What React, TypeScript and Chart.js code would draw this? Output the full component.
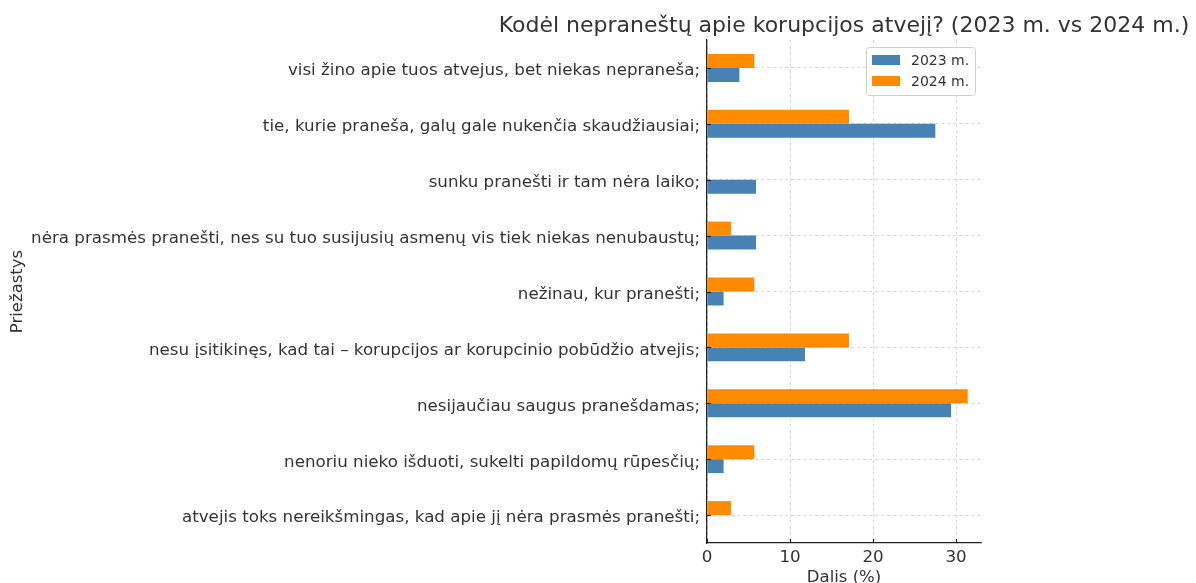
import React, { useEffect, useRef } from "react";
import { Chart, registerables } from "chart.js";

Chart.register(...registerables);

const categories: string[] = [
  "visi žino apie tuos atvejus, bet niekas nepraneša;",
  "tie, kurie praneša, galų gale nukenčia skaudžiausiai;",
  "sunku pranešti ir tam nėra laiko;",
  "nėra prasmės pranešti, nes su tuo susijusių asmenų vis tiek niekas nenubaustų;",
  "nežinau, kur pranešti;",
  "nesu įsitikinęs, kad tai – korupcijos ar korupcinio pobūdžio atvejis;",
  "nesijaučiau saugus pranešdamas;",
  "nenoriu nieko išduoti, sukelti papildomų rūpesčių;",
  "atvejis toks nereikšmingas, kad apie jį nėra prasmės pranešti;",
];

const values2023: number[] = [3.9, 27.5, 5.9, 5.9, 2.0, 11.8, 29.4, 2.0, 0];
const values2024: number[] = [5.7, 17.1, 0, 2.9, 5.7, 17.1, 31.4, 5.7, 2.9];

const xTickValues: number[] = [0, 10, 20, 30];
const xMax = 33;

const seriesNames: string[] = ["2023 m.", "2024 m."];
const seriesColors: string[] = ["#4682B4", "#FF8C00"];

const titleText = "Kodėl nepraneštų apie korupcijos atvejį? (2023 m. vs 2024 m.)";
const xTitle = "Dalis (%)";
const yTitle = "Priežastys";

const FONT = "'DejaVu Sans', sans-serif";
const TEXT = "#333333";
const TICK_SIZE = 16.7;
const AXIS_TITLE_SIZE = 16.5;

const decorPlugin = {
  id: "decor",
  afterDraw(chart: any) {
    const { ctx, chartArea, scales } = chart;
    ctx.save();
    // inward ticks
    ctx.strokeStyle = "#222";
    ctx.lineWidth = 1.2;
    const ys = scales.y;
    categories.forEach((_, i) => {
      const py = Math.round(ys.getPixelForValue(i)) + 0.5;
      ctx.beginPath();
      ctx.moveTo(chartArea.left, py);
      ctx.lineTo(chartArea.left + 4, py);
      ctx.stroke();
    });
    const xs = scales.x;
    xTickValues.forEach((v) => {
      const px = Math.round(xs.getPixelForValue(v)) + 0.5;
      ctx.beginPath();
      ctx.moveTo(px, chartArea.bottom);
      ctx.lineTo(px, chartArea.bottom - 4);
      ctx.stroke();
    });
    // title
    ctx.fillStyle = TEXT;
    ctx.font = `22px ${FONT}`;
    ctx.textAlign = "center";
    ctx.textBaseline = "middle";
    ctx.fillText(titleText, (chartArea.left + chartArea.right) / 2, 26);
    // legend
    const lw = 109;
    const lh = 48;
    const lx = chartArea.right - 6 - lw;
    const ly = chartArea.top + 7;
    ctx.beginPath();
    ctx.roundRect(lx + 0.5, ly + 0.5, lw, lh, 3);
    ctx.fillStyle = "rgba(255,255,255,0.85)";
    ctx.fill();
    ctx.strokeStyle = "#d0d0d0";
    ctx.lineWidth = 1;
    ctx.stroke();
    ctx.font = `14px ${FONT}`;
    ctx.textAlign = "left";
    seriesNames.forEach((name, i) => {
      const cy = ly + 13 + i * 21;
      ctx.fillStyle = seriesColors[i];
      ctx.fillRect(lx + 6, cy - 5, 28, 10);
      ctx.fillStyle = TEXT;
      ctx.fillText(name, lx + 45, cy + 1);
    });
    ctx.restore();
  },
};

export default function App() {
  const canvasRef = useRef<HTMLCanvasElement | null>(null);

  useEffect(() => {
    if (!canvasRef.current) return;
    const grid = {
      color: "rgba(0,0,0,0.2)",
      lineWidth: 0.8,
      tickLength: 0,
    };
    const chart = new Chart(canvasRef.current, {
      type: "bar",
      data: {
        labels: categories,
        datasets: [
          {
            label: seriesNames[1],
            data: values2024,
            backgroundColor: seriesColors[1],
            borderWidth: 0,
            categoryPercentage: 0.5,
            barPercentage: 1,
          },
          {
            label: seriesNames[0],
            data: values2023,
            backgroundColor: seriesColors[0],
            borderWidth: 0,
            categoryPercentage: 0.5,
            barPercentage: 1,
          },
        ],
      },
      plugins: [decorPlugin],
      options: {
        indexAxis: "y",
        responsive: false,
        animation: false,
        devicePixelRatio: 1,
        layout: { padding: { top: 40, right: 215, left: 0, bottom: 0 } },
        plugins: {
          legend: { display: false },
          title: { display: false },
          tooltip: { enabled: false },
        },
        scales: {
          x: {
            type: "linear",
            min: 0,
            max: xMax,
            afterBuildTicks: (scale: any) => {
              scale.ticks = xTickValues.map((v) => ({ value: v }));
            },
            afterFit: (scale: any) => {
              scale.height = 40;
            },
            grid: { ...grid },
            border: { display: true, color: "#222", width: 1.3, dash: [3, 3] },
            ticks: {
              color: TEXT,
              font: { family: FONT, size: TICK_SIZE },
              padding: 5,
              maxRotation: 0,
            },
            title: {
              display: true,
              text: xTitle,
              color: TEXT,
              font: { family: FONT, size: AXIS_TITLE_SIZE },
              padding: { top: 0, bottom: -5 },
            },
          },
          y: {
            type: "category",
            offset: true,
            afterFit: (scale: any) => {
              scale.width = 707;
            },
            grid: { ...grid, offset: false },
            border: { display: true, color: "#222", width: 1.3, dash: [3, 3] },
            ticks: {
              color: TEXT,
              font: { family: FONT, size: TICK_SIZE },
              padding: 7,
              labelOffset: 3,
              autoSkip: false,
            },
            title: {
              display: true,
              text: yTitle,
              color: TEXT,
              font: { family: FONT, size: AXIS_TITLE_SIZE },
              padding: { top: 8, bottom: 0 },
            },
          },
        },
      },
    } as any);
    return () => chart.destroy();
  }, []);

  return (
    <div style={{ position: "fixed", left: 0, top: 0, width: 1196, height: 583, background: "#fff" }}>
      <canvas ref={canvasRef} width={1196} height={583} style={{ width: 1196, height: 583 }} />
    </div>
  );
}
